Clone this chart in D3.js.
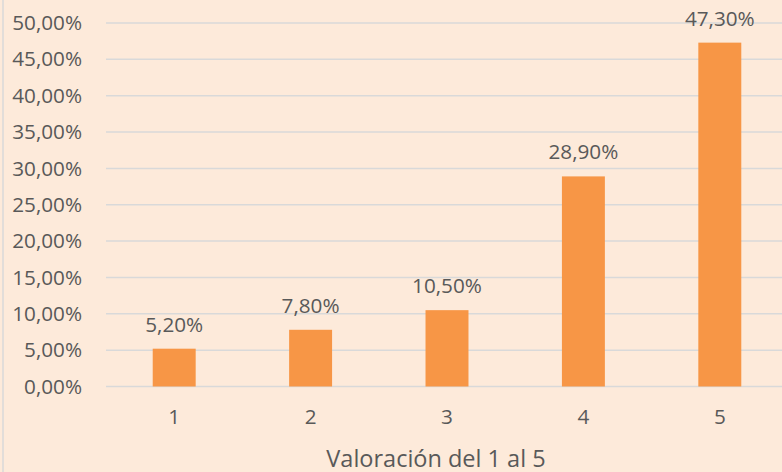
<!DOCTYPE html>
<html>
<head>
<meta charset="utf-8">
<script src="https://cdn.jsdelivr.net/npm/d3@7"></script>
<style>
  html, body { margin: 0; padding: 0; background: #FDEADA; }
  svg { display: block; }
  text { font-family: "Open Sans", sans-serif; fill: #595959; }
</style>
</head>
<body>
<div id="chart"></div>
<script>
// data
const categories = ['1', '2', '3', '4', '5'];
const values = [5.2, 7.8, 10.5, 28.9, 47.3];
const yTicks = [0, 5, 10, 15, 20, 25, 30, 35, 40, 45, 50];
const axisTitle = 'Valoración del 1 al 5';

const width = 782, height = 472;
const plotLeft = 106, plotRight = 788;
const plotTop = 23, plotBottom = 386.5;
const labelSize = 20.7;

const fmt = v => v.toFixed(2).replace('.', ',') + '%';

const svg = d3.select('#chart').append('svg')
    .attr('width', width)
    .attr('height', height);

svg.append('rect')
    .attr('width', width).attr('height', height)
    .attr('fill', '#FDEADA');

// chart area border (left edge only visible)
svg.append('line')
    .attr('x1', 3).attr('x2', 3)
    .attr('y1', 0).attr('y2', height)
    .attr('stroke', '#D9D9D9').attr('stroke-width', 1.5);

const x = d3.scaleBand()
    .domain(categories)
    .range([plotLeft, plotRight])
    .paddingInner(0.685)
    .paddingOuter(0.3425);

const y = d3.scaleLinear()
    .domain([0, 50])
    .range([plotBottom, plotTop]);

// gridlines
svg.append('g')
    .selectAll('line')
    .data(yTicks)
    .join('line')
    .attr('x1', plotLeft).attr('x2', width)
    .attr('y1', d => y(d)).attr('y2', d => y(d))
    .attr('stroke', '#D9D9D9')
    .attr('stroke-width', 1.5);

// y axis labels
const yAxis = d3.axisLeft(y).tickValues(yTicks).tickFormat(fmt).tickSize(0).tickPadding(0);
svg.append('g')
    .attr('transform', `translate(82,0)`)
    .call(yAxis)
    .call(g => g.select('.domain').remove())
    .selectAll('text')
    .attr('font-size', labelSize)
    .attr('font-family', '"Open Sans", sans-serif')
    .attr('fill', '#595959');

// bars
svg.append('g')
    .selectAll('rect')
    .data(values)
    .join('rect')
    .attr('x', (d, i) => x(categories[i]))
    .attr('width', x.bandwidth())
    .attr('y', d => y(d))
    .attr('height', d => plotBottom - y(d))
    .attr('fill', '#F79646');

// data labels
svg.append('g')
    .selectAll('text')
    .data(values)
    .join('text')
    .attr('x', (d, i) => x(categories[i]) + x.bandwidth() / 2)
    .attr('y', d => y(d) - 17)
    .attr('text-anchor', 'middle')
    .attr('font-size', labelSize)
    .text(fmt);

// x axis labels
const xAxis = d3.axisBottom(x).tickSize(0).tickPadding(0);
svg.append('g')
    .attr('transform', `translate(0,${plotBottom})`)
    .call(xAxis)
    .call(g => g.select('.domain').remove())
    .selectAll('text')
    .attr('dy', null)
    .attr('y', 37)
    .attr('font-size', labelSize)
    .attr('font-family', '"Open Sans", sans-serif')
    .attr('fill', '#595959');

// axis title
svg.append('text')
    .attr('x', 436)
    .attr('y', 466.5)
    .attr('text-anchor', 'middle')
    .attr('font-size', 23.5)
    .text(axisTitle);
</script>
</body>
</html>
